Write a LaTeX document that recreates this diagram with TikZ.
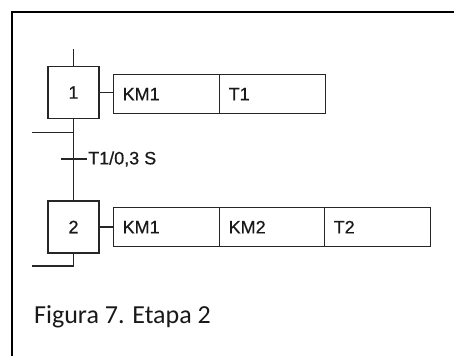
\documentclass[tikz,border=0pt]{standalone}
\usepackage{fontspec}
\setmainfont{Liberation Sans}
\newfontfamily\diafont{Liberation Sans}[BoldFont=Liberation Sans, BoldFeatures={FakeBold=0.6}]
\newfontfamily\capfont{Carlito}
\begin{document}
\begin{tikzpicture}[x=1pt,y=-1pt,
  wire/.style={line width=1.3pt, draw=black!85},
  frame/.style={line width=2pt, draw=black},
  txt/.style={font=\diafont\bfseries\fontsize{18}{18}\selectfont, text=black!90},
  lbl/.style={txt, inner sep=0pt},
  stepbox/.style={wire, txt, minimum width=51pt, minimum height=52pt, inner sep=0pt},
  cell/.style={wire, txt, minimum height=39pt, inner xsep=9pt, inner ysep=0pt,
    text width=#1, align=left, anchor=north west},
  cell/.default=88pt
]
\useasboundingbox (0,0) rectangle (454,356);

% page frame (only the top and left edges are in view)
\draw[frame] (454,12) -- (12,12) -- (12,356);

% step 1 and its actions
\node[stepbox] (s1) at (73.5,92.5) {1};
\node[cell] (a11) at (113,74) {KM1};
\node[cell=88pt] (a12) at (219,74) {T1};
\draw[wire] (s1.east) -- (s1.east -| a11.west);

% step 2 and its actions
\node[stepbox] (s2) at (73.5,227) {2};
\node[cell] (a21) at (113,207) {KM1};
\node[cell=87pt] (a22) at (219,207) {KM2};
\node[cell=88pt] (a23) at (324,207) {T2};
\draw[wire] (s2.east) -- (s2.east -| a21.west);

% incoming link above step 1
\coordinate (in1) at (73.5,49);
\draw[wire] (in1) -- (s1.north);

% link between the steps, with the loop-back branch
\draw[wire] (s1.south) -- (s2.north);
\coordinate (ret1) at (32,132.5);
\draw[wire] (ret1) -- (ret1 -| s1.south);

% transition T1/0,3 S
\coordinate (tr1) at (73.5,159);
\draw[wire] ([xshift=-13pt]tr1) -- ([xshift=13pt]tr1);
\node[lbl, anchor=west] (tr1lbl) at (88,159) {T1/0,3 S};

% outgoing link below step 2
\coordinate (out2) at (32,266);
\draw[wire] (s2.south) |- (out2);

% caption
\node[anchor=base west, inner sep=0pt, font=\capfont\fontsize{26}{26}\selectfont,
  text=black!90] (cap) at (34,323) {Figura 7. Etapa 2};
\end{tikzpicture}
\end{document}
